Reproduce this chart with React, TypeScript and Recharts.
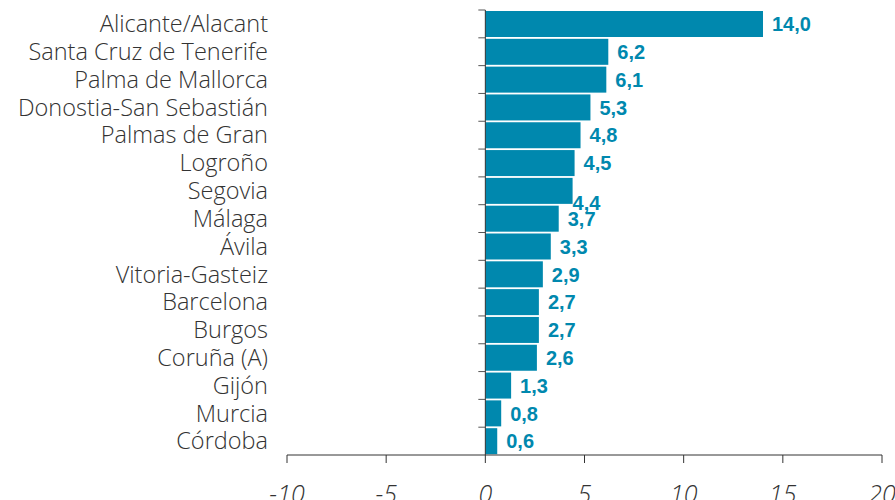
import React from "react"
import { BarChart, Bar, XAxis, YAxis, ReferenceLine, LabelList } from "recharts"

const cities = [
  "Alicante/Alacant",
  "Santa Cruz de Tenerife",
  "Palma de Mallorca",
  "Donostia-San Sebastián",
  "Palmas de Gran",
  "Logroño",
  "Segovia",
  "Málaga",
  "Ávila",
  "Vitoria-Gasteiz",
  "Barcelona",
  "Burgos",
  "Coruña (A)",
  "Gijón",
  "Murcia",
  "Córdoba",
]

const values = [14.0, 6.2, 6.1, 5.3, 4.8, 4.5, 4.4, 3.7, 3.3, 2.9, 2.7, 2.7, 2.6, 1.3, 0.8, 0.6]

const xTicks = [-10, -5, 0, 5, 10, 15, 20]

const BAR_COLOR = "#0088ae"
const TEXT_COLOR = "#333333"
const FONT = "'Open Sans', 'Liberation Sans', Arial, sans-serif"
const BOLD_FONT = "'Liberation Sans', Arial, sans-serif"

const data = cities.map((city, i) => ({ city, value: values[i] }))

// bar plus the little tick on the zero line at the top of its band
function BarWithTick(props: any) {
  const { x, y, width, height, fill } = props
  const bandTop = y - 1
  return (
    <g>
      <rect x={x} y={y} width={width} height={height} fill={fill} />
      <line x1={x - 7} x2={x} y1={bandTop} y2={bandTop} stroke="#555" strokeWidth={1} />
    </g>
  )
}

function ValueLabel(props: any) {
  const { x, y, width, height, value, index } = props
  // the Segovia label sits lower in the original
  const odd = index === 6
  const tx = x + width + (odd ? 0 : 9)
  const ty = y + height / 2 + (odd ? 12 : 0)
  return (
    <text
      x={tx}
      y={ty}
      dy="0.36em"
      fill={BAR_COLOR}
      fontFamily={BOLD_FONT}
      fontWeight="bold"
      fontSize={20}
    >
      {Number(value).toFixed(1).replace(".", ",")}
    </text>
  )
}

export default function App() {
  return (
    <div style={{ position: "absolute", left: 0, top: 0, background: "#fff" }}>
      <BarChart
        width={895}
        height={500}
        data={data}
        layout="vertical"
        margin={{ top: 10, right: 13, bottom: 0, left: 0 }}
        barCategoryGap={1}
      >
        <XAxis
          type="number"
          domain={[-10, 20]}
          ticks={xTicks}
          interval={0}
          height={45}
          tickSize={8}
          tickMargin={22}
          stroke={TEXT_COLOR}
          tick={{ fill: TEXT_COLOR, fontFamily: FONT, fontStyle: "italic", fontWeight: 300, fontSize: 25 }}
        />
        <YAxis
          type="category"
          dataKey="city"
          width={287}
          axisLine={false}
          tickLine={false}
          tickSize={0}
          tickMargin={19}
          interval={0}
          tick={{ fill: TEXT_COLOR, fontFamily: FONT, fontWeight: 300, fontSize: 23.5 }}
        />
        <ReferenceLine x={0} stroke={TEXT_COLOR} strokeWidth={1} />
        <Bar dataKey="value" fill={BAR_COLOR} isAnimationActive={false} shape={<BarWithTick />}>
          <LabelList dataKey="value" content={<ValueLabel />} />
        </Bar>
      </BarChart>
    </div>
  )
}
